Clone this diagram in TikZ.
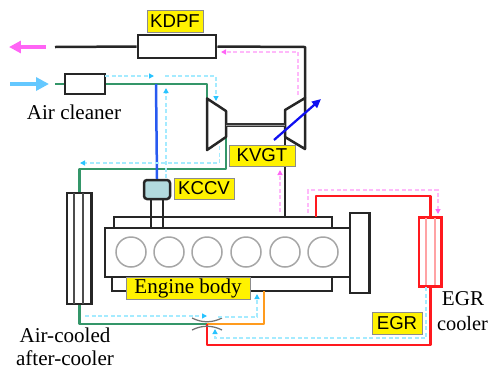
\documentclass[tikz,border=0pt]{standalone}
\usepackage{fontspec}
\setmainfont{Liberation Serif}
\newfontfamily\tagfont{Liberation Sans}
\usetikzlibrary{arrows.meta}
\definecolor{pipegreen}{RGB}{52,150,105}
\definecolor{pipered}{RGB}{255,25,30}
\definecolor{pipeorange}{RGB}{255,155,30}
\definecolor{kccvblue}{RGB}{40,90,240}
\definecolor{vgtblue}{RGB}{15,15,240}
\definecolor{flowcyan}{RGB}{165,235,255}
\definecolor{tipcyan}{RGB}{40,195,255}
\definecolor{flowpink}{RGB}{255,185,250}
\definecolor{tippink}{RGB}{255,100,245}
\definecolor{bigblue}{RGB}{100,200,255}
\definecolor{kccvfill}{RGB}{178,218,222}
\tikzset{
    box/.style={draw=black!85,line width=0.05cm,inner sep=0pt,fill=white},
    tag/.style={draw=black!45,line width=0.012cm,fill=yellow,inner sep=0pt,font=\tagfont\fontsize{10.6}{12}\selectfont},
    word/.style={inner sep=0pt,font=\fontsize{12}{14}\selectfont},
    pipe/.style={line width=0.05cm,line join=round},
    cyanflow/.style={draw=flowcyan,line width=0.025cm,dash pattern=on 0.08cm off 0.05cm,-{Triangle[length=0.1cm,width=0.1cm,color=tipcyan]}},
    pinkflow/.style={draw=flowpink,line width=0.025cm,dash pattern=on 0.08cm off 0.05cm,-{Triangle[length=0.1cm,width=0.1cm,color=tippink]}}
}
\begin{document}
\begin{tikzpicture}[x=0.02cm,y=-0.02cm]
\useasboundingbox (0,0) rectangle (489,369);

% free ends and bends
\coordinate (exhaustend) at (55,47);
\coordinate (intakeend) at (55,84);
\coordinate (compin) at (207,98.5);
\coordinate (compout) at (226,137);
\coordinate (turbin) at (285,137);
\coordinate (turbout) at (305,98);
\coordinate (greenbend) at (226,169);
\coordinate (valve) at (207,324);
\coordinate (hotbend) at (207,345);
\coordinate (topright) at (305,47);
\coordinate (manifoldin) at (285,217);
\coordinate (manifoldout) at (316,217);
\coordinate (orangeend) at (264,291);
\coordinate (blowby) at (156,84);

% engine
\draw[box] (114,228) |- (332,217) -- (332,228);
\draw[box] (112,277) |- (332,291) -- (332,277);
\node[box,minimum width=4.9cm,minimum height=0.98cm] (block) at (227.5,252.5) {};
\node[box,minimum width=0.39cm,minimum height=1.6cm] (flywheel) at (359.75,253) {};
\foreach \x in {131,169,207,246,285,323} {
    \draw[black!35,line width=0.03cm] (\x,252) circle (15);
}

% boxes on the pipes
\node[box,minimum width=1.57cm,minimum height=0.46cm] (kdpf) at (177,46.5) {};
\node[box,minimum width=0.8cm,minimum height=0.4cm] (cleaner) at (85,84) {};
\node[box,rounded corners=0.06cm,fill=kccvfill,minimum width=0.52cm,minimum height=0.38cm] (kccv) at (157,189.5) {};
\node[box,minimum width=0.49cm,minimum height=2.22cm] (aircooler) at (79.25,248.5) {};
\node[box,draw=pipered,minimum width=0.45cm,minimum height=1.38cm] (egrcooler) at (430.25,252) {};
\foreach \x in {74,83} {
    \draw[black!70,line width=0.025cm] (\x,193) -- (\x,304);
}
\foreach \x in {426,435} {
    \draw[pipered!40,line width=0.025cm] (\x,218) -- (\x,285);
}

% pipes
\draw[pipe,black!85] (exhaustend) -- (kdpf.west);
\draw[pipe,black!85] (kdpf.east) -- (topright) -- (turbout);
\draw[pipe,black!85] (turbin) -- (manifoldin);
\draw[pipe,pipegreen] (intakeend) -- (cleaner.west);
\draw[pipe,pipegreen] (cleaner.east) -| (compin);
\draw[pipe,pipegreen] (compout) -- (greenbend) -| (aircooler.north);
\draw[pipe,pipegreen] (aircooler.south) |- (valve);
\draw[pipe,pipeorange] (valve) -| (orangeend);
\draw[pipe,pipered] (valve) -- (hotbend) -| (egrcooler.south);
\draw[pipe,pipered] (egrcooler.north) |- (316,196) -- (manifoldout);
\draw[pipe,kccvblue] (blowby) -- (kccv.north);
\draw[pipe,black!85] (151,199) -- (151,228);
\draw[pipe,black!85] (163,199) -- (163,228);

% turbocharger
\draw[box,line join=round] (compin) -- (226,111) -- (compout) -- (207,150) -- cycle;
\draw[box,line join=round] (turbout) -- (285,110) -- (turbin) -- (305,149) -- cycle;
\draw[black!80,line width=0.08cm] (226,125) -- (285,125);
\draw[black!40,line width=0.015cm] (226,125) -- (285,125);
\draw[vgtblue,line width=0.045cm,-{Triangle[length=0.18cm,width=0.16cm]}] (274,140) -- (321,99);

% big arrows
\draw[tippink,line width=0.07cm,-{Triangle[length=0.24cm,width=0.24cm]}] (46,47) -- (9,47);
\draw[bigblue,line width=0.07cm,-{Triangle[length=0.26cm,width=0.26cm]}] (10,84) -- (49,84);

% throttle
\draw[black!55,line width=0.025cm] (192,318) .. controls (202,323) and (212,323) .. (222,318);
\draw[black!55,line width=0.025cm] (192,330) .. controls (202,325) and (212,325) .. (222,330);

% dashed flow
\draw[cyanflow] (105,76) -- (154,76);
\draw[cyanflow] (165,76) -- (216,76) -- (216,101);
\draw[cyanflow] (166,178) -- (166,88);
\draw[cyanflow] (219.5,146) -- (219.5,163) -- (80,163);
\draw[cyanflow] (85,316) -- (207,316);
\draw[cyanflow] (218,317) -- (257,317) -- (257,294);
\draw[cyanflow] (426,287) -- (426,338) -- (215,338) -- (215,329);
\draw[pinkflow] (298,95) -- (298,52) -- (221,52);
\draw[pinkflow] (280,212) -- (280,170);
\draw[pinkflow] (308,213) -- (308,190) -- (438,190) -- (438,214);

% labels
\node[tag,minimum width=1.12cm,minimum height=0.44cm] (kdpftag) at (175,21) {KDPF};
\node[tag,minimum width=1.2cm,minimum height=0.42cm] (kccvtag) at (204,188.5) {KCCV};
\node[tag,minimum width=1.32cm,minimum height=0.42cm] (kvgttag) at (262,155.5) {KVGT};
\node[tag,minimum width=1cm,minimum height=0.44cm] (egrtag) at (397,323) {EGR};
\node[tag,word,minimum width=2.48cm,minimum height=0.44cm] (bodytag) at (188,288) {Engine body};
\node[word] (cleanerword) at (74,112) {Air cleaner};
\node[word] (coolerworda) at (65,335) {Air-cooled};
\node[word] (coolerwordb) at (65,358) {after-cooler};
\node[word] (egrworda) at (463,299) {EGR};
\node[word,font=\fontsize{11.6}{14}\selectfont] (egrwordb) at (462.5,324) {cooler};
\end{tikzpicture}
\end{document}
